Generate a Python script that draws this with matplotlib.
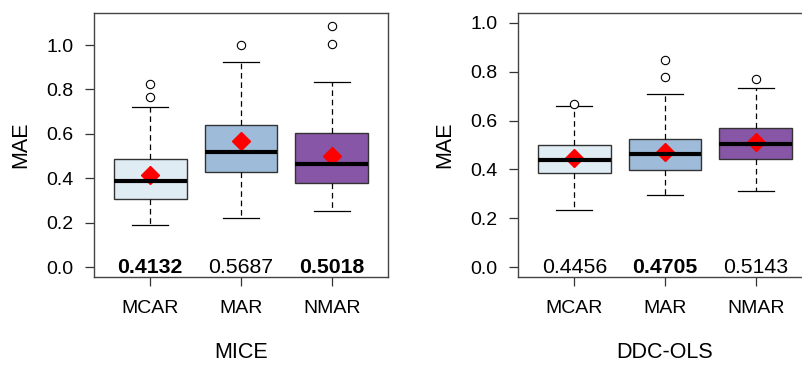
import matplotlib
matplotlib.use("Agg")
import matplotlib.pyplot as plt

plt.rcParams['font.family'] = ['Liberation Sans', 'DejaVu Sans']

# --- DATA ---
groups = ["MCAR", "MAR", "NMAR"]
colors = ["#E0ECF4", "#9EBCDA", "#8856A7"]

# MICE
mice_q1 = [0.309, 0.429, 0.378]
mice_med = [0.388, 0.519, 0.466]
mice_q3 = [0.486, 0.642, 0.606]
mice_lo = [0.188, 0.221, 0.253]
mice_hi = [0.722, 0.922, 0.833]
mice_fliers = [[0.767, 0.823], [1.0], [1.003, 1.087]]
mice_mean = [0.4132, 0.5687, 0.5018]
mice_bold = [True, False, True]

# DDC-OLS
ddc_q1 = [0.386, 0.396, 0.443]
ddc_med = [0.440, 0.463, 0.506]
ddc_q3 = [0.500, 0.524, 0.571]
ddc_lo = [0.233, 0.296, 0.310]
ddc_hi = [0.658, 0.710, 0.733]
ddc_fliers = [[0.669], [0.777, 0.848], [0.771]]
ddc_mean = [0.4456, 0.4705, 0.5143]
ddc_bold = [False, True, False]


def draw_panel(ax, q1, med, q3, lo, hi, fliers, means, bold, ymax, title):
    stats = []
    for i in range(len(groups)):
        stats.append(dict(q1=q1[i], med=med[i], q3=q3[i], whislo=lo[i],
                          whishi=hi[i], fliers=fliers[i], mean=means[i]))
    pos = [1, 2, 3]
    bp = ax.bxp(stats, positions=pos, widths=0.8, patch_artist=True,
                showmeans=False,
                boxprops=dict(edgecolor="#333333", linewidth=1.0),
                medianprops=dict(color="black", linewidth=3.0),
                whiskerprops=dict(color="black", linewidth=0.9,
                                  linestyle=(0, (4.5, 3))),
                capprops=dict(color="black", linewidth=0.9),
                capwidths=0.4,
                flierprops=dict(marker="o", markerfacecolor="white",
                                markeredgecolor="black", markersize=6,
                                markeredgewidth=0.8))
    for patch, c in zip(bp["boxes"], colors):
        patch.set_facecolor(c)
    ax.plot(pos, means, linestyle="none", marker="D", color="red",
            markersize=9)
    for x, m, b in zip(pos, means, bold):
        ax.text(x, 0.0, f"{m:.4f}", ha="center", va="center",
                fontsize=15.3, fontweight="bold" if b else "normal")

    r = ymax * 0.04
    ax.set_ylim(-r, ymax + r)
    ax.set_xlim(0.38, 3.62)
    ax.set_yticks([0.0, 0.2, 0.4, 0.6, 0.8, 1.0])
    ax.set_yticklabels(["0.0", "0.2", "0.4", "0.6", "0.8", "1.0"])
    ax.set_xticks(pos)
    ax.set_xticklabels(groups)
    ax.tick_params(axis="both", labelsize=14, length=6.5, width=0.9,
                   color="#333333")
    ax.tick_params(axis="y", pad=8)
    ax.tick_params(axis="x", pad=10)
    for s in ax.spines.values():
        s.set_color("#444444")
        s.set_linewidth(1.0)
    ax.set_ylabel("MAE", fontsize=15.5, labelpad=11)
    ax.set_xlabel(title, fontsize=15.5, labelpad=18)


fig = plt.figure(figsize=(8.03, 3.67), dpi=100)
ax1 = fig.add_axes([94 / 803, 1 - 277 / 367, 294 / 803, 264 / 367])
ax2 = fig.add_axes([518 / 803, 1 - 277 / 367, 294 / 803, 264 / 367])

draw_panel(ax1, mice_q1, mice_med, mice_q3, mice_lo, mice_hi, mice_fliers,
           mice_mean, mice_bold, 1.1, "MICE")
draw_panel(ax2, ddc_q1, ddc_med, ddc_q3, ddc_lo, ddc_hi, ddc_fliers,
           ddc_mean, ddc_bold, 1.0, "DDC-OLS")

fig.savefig("out.png", dpi=100)
